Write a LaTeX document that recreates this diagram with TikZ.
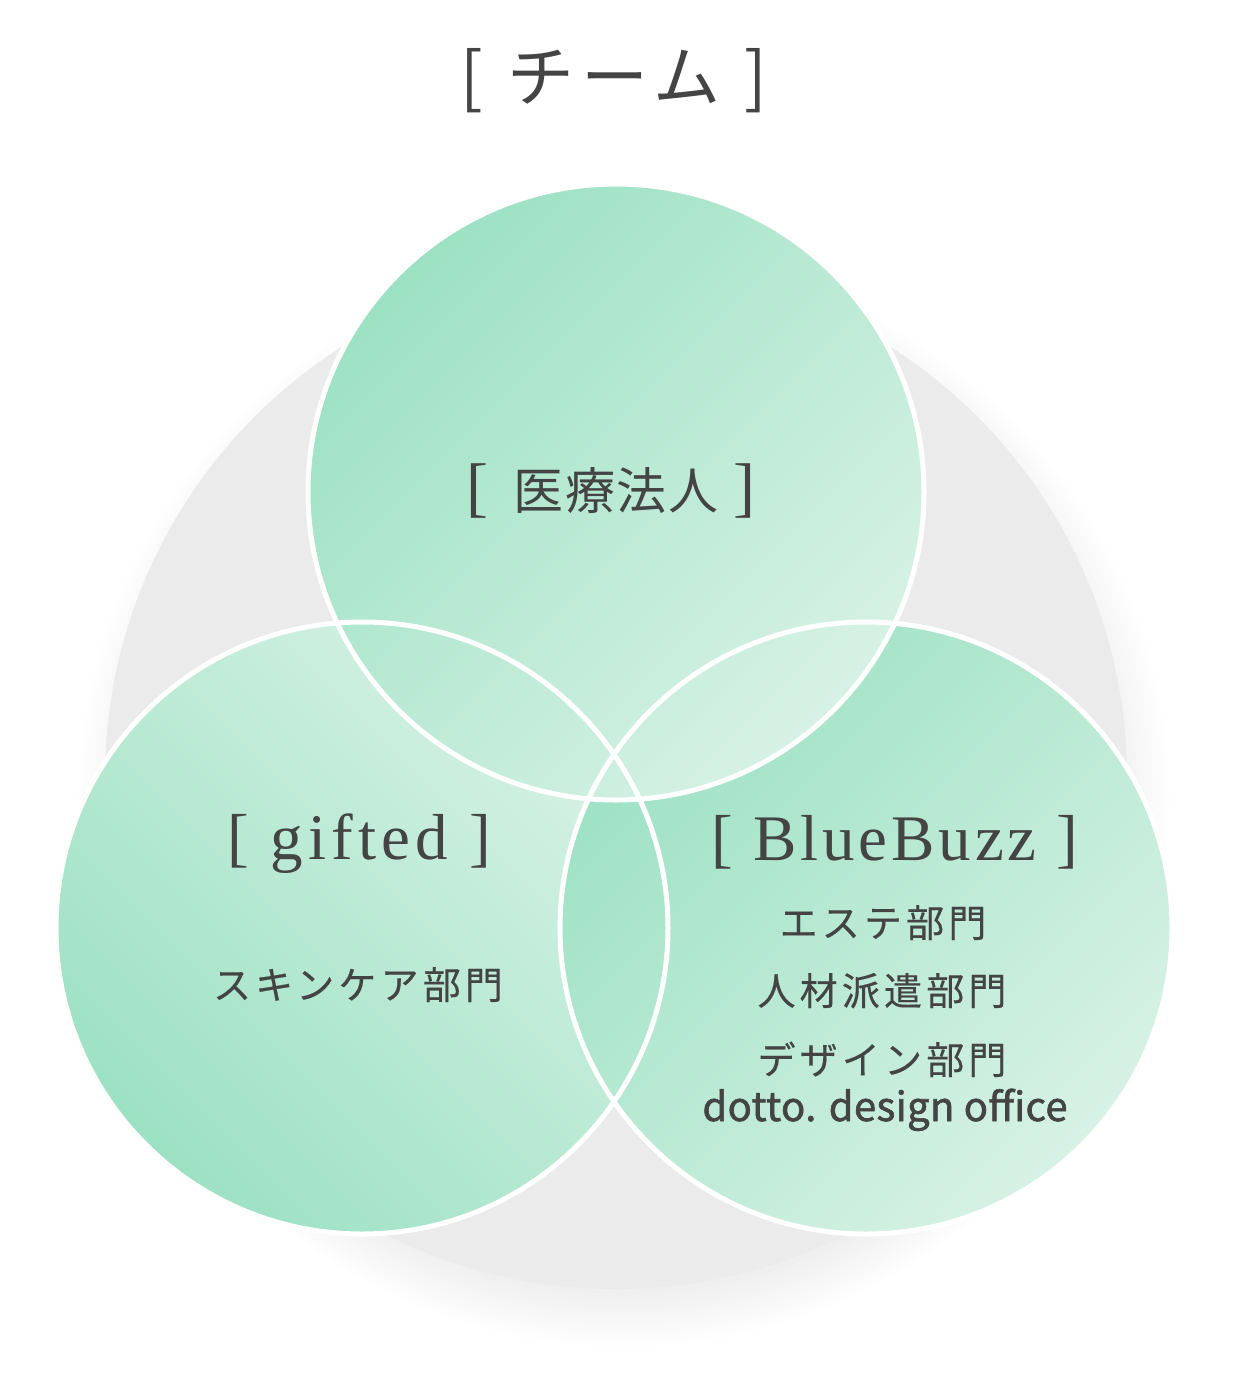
\documentclass[tikz,border=0pt]{standalone}
\usepackage{fontspec}
\newfontfamily\ftitle{Noto Sans CJK JP}[LetterSpace=10]
\newfontfamily\fbody{Noto Sans CJK JP}[LetterSpace=11,FakeBold=0.4]
\newfontfamily\fkanji{Noto Sans CJK JP}[LetterSpace=3]
\newfontfamily\fserifg{Liberation Serif}[LetterSpace=8]
\newfontfamily\fserif{Liberation Serif}[LetterSpace=6]
\newfontfamily\fbrack{Liberation Serif}
\newfontfamily\fmed{Noto Sans CJK JP}[LetterSpace=1,FakeBold=1.5]
\definecolor{gd}{RGB}{145,222,189}
\definecolor{gl}{RGB}{227,245,236}
\definecolor{grayc}{RGB}{235,235,235}
\definecolor{txt}{RGB}{68,68,68}
\pgfdeclarehorizontalshading{gshade}{100bp}{color(0bp)=(gd); color(15bp)=(gd); color(85bp)=(gl); color(100bp)=(gl)}
\begin{document}
\begin{tikzpicture}[x=1pt,y=-1pt,
  ring/.style={draw=white, line width=5pt},
  lbl/.style={inner sep=0pt, outer sep=0pt, text=txt}]
\fill[white] (0,0) rectangle (1241,1400);
\useasboundingbox (0,0) rectangle (1241,1400);
\coordinate (cglow) at (624,802);
\coordinate (cgray) at (616,778);
\coordinate (ctop) at (616,492);
\coordinate (cleft) at (362,928);
\coordinate (cright) at (866,928);
% background disc with soft shadow
\foreach \k in {1,...,16}
  \fill[black, fill opacity=0.0055] (cglow) circle[radius=488+\k*3.6];
\fill[grayc] (cgray) circle[radius=511];
% green discs
\shade[shading=gshade, shading angle=45] (cleft) circle[radius=306];
\shade[shading=gshade, shading angle=-45] (cright) circle[radius=306];
\shade[shading=gshade, shading angle=-45] (ctop) circle[radius=308];
% white outlines
\draw[ring] (cleft) circle[radius=306];
\draw[ring] (cright) circle[radius=306];
\draw[ring] (ctop) circle[radius=308];
% texts
\node[lbl, font=\ftitle\fontsize{67}{70}\selectfont, anchor=base west] (title) at (460,101) {[\hspace{25pt}チーム\hspace{24pt}]};
\node[lbl, anchor=base west] (iryo) at (466,509) {{\fbrack\fontsize{66}{70}\selectfont[}\hspace{26pt}{\fkanji\fontsize{50}{54}\selectfont 医療法人}\hspace{15pt}{\fbrack\fontsize{66}{70}\selectfont]}};
\node[lbl, font=\fserifg\fontsize{65}{68}\selectfont, anchor=base west] (gifted) at (227.3,859) {[ gifted ]};
\node[lbl, font=\fserif\fontsize{65}{68}\selectfont, anchor=base west] (bluebuzz) at (711.3,860) {[ BlueBuzz ]};
\node[lbl, font=\fbody\fontsize{38}{42}\selectfont, anchor=base] (skin) at (358,999) {スキンケア部門};
\node[lbl, font=\fbody\fontsize{38}{42}\selectfont, anchor=base] (este) at (883,937) {エステ部門};
\node[lbl, font=\fbody\fontsize{38}{42}\selectfont, anchor=base] (jinzai) at (882,1005) {人材派遣部門};
\node[lbl, font=\fbody\fontsize{38}{42}\selectfont, anchor=base] (design) at (882,1074) {デザイン部門};
\node[lbl, font=\fmed\fontsize{40}{44}\selectfont, anchor=base] (dotto) at (885,1121) {dotto. design office};
\end{tikzpicture}
\end{document}
